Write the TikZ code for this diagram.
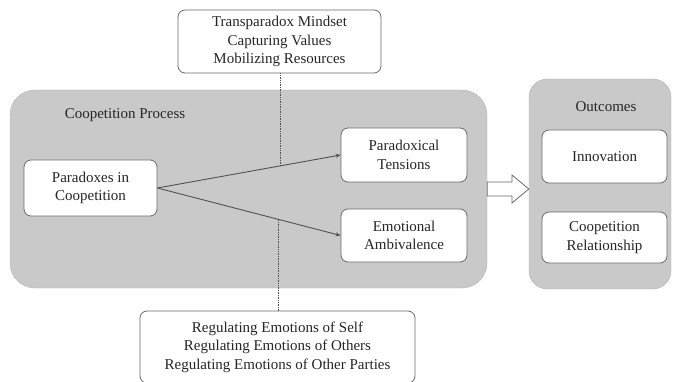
\documentclass[tikz,border=0pt]{standalone}
\usepackage{fontspec}
\setmainfont{Liberation Serif}
\usetikzlibrary{arrows.meta}
\definecolor{panelgray}{HTML}{C9C9C9}
\definecolor{edgegray}{HTML}{6A6A6A}
\definecolor{inkgray}{HTML}{262626}
\begin{document}
\begin{tikzpicture}[x=1pt,y=-1pt,
  every node/.style={font=\fontsize{15}{18.5}\selectfont, text=inkgray},
  panel/.style={fill=panelgray, draw=panelgray!90!black, line width=0.4pt},
  whitebox/.style={draw=edgegray, fill=white, line width=0.8pt, rounded corners=7pt,
    align=center, inner sep=0pt},
  link/.style={draw=inkgray!80, line width=0.9pt, -{Stealth[length=5pt,width=4pt]}},
  guide/.style={draw=inkgray!80, line width=0.7pt, densely dotted}]
\useasboundingbox (0,0) rectangle (674,382);

% shaded panels
\node[panel, rounded corners=25pt, minimum width=477pt, minimum height=198pt] (proc) at (248.5,189) {};
\node[panel, rounded corners=18pt, minimum width=142pt, minimum height=210pt] (outc) at (600,184) {};
\node (proclabel) at (125,115) {Coopetition Process};
\node (outclabel) at (606,107) {Outcomes};

% boxes in the process panel
\node[whitebox, minimum width=133pt, minimum height=56pt] (para) at (90.5,188) {Paradoxes in\\Coopetition};
\node[whitebox, minimum width=126pt, minimum height=54pt] (tens) at (404,155) {Paradoxical\\Tensions};
\node[whitebox, minimum width=126pt, minimum height=53pt] (emo) at (404,235.5) {Emotional\\Ambivalence};

% boxes in the outcomes panel
\node[whitebox, minimum width=125pt, minimum height=53pt] (inno) at (604.5,156.5) {Innovation};
\node[whitebox, minimum width=125pt, minimum height=51pt] (rel) at (604.5,237.5) {Coopetition\\Relationship};

% moderator boxes
\node[whitebox, minimum width=203pt, minimum height=63pt] (top) at (279.5,41.5)
  {Transparadox Mindset\\Capturing Values\\Mobilizing Resources};
\node[whitebox, minimum width=275pt, minimum height=72pt] (bot) at (277.5,347)
  {Regulating Emotions of Self\\Regulating Emotions of Others\\Regulating Emotions of Other Parties};

% paths from the paradoxes
\draw[link] (para.east) -- (tens.west);
\draw[link] (para.east) -- (emo.west);

% moderating links
\coordinate (mtop) at (280,166.4);
\coordinate (mbot) at (278,218.5);
\draw[guide] (top.south -| mtop) -- (mtop);
\draw[guide] (mbot) -- (bot.north -| mbot);

% hollow block arrow from process to outcomes
\draw[draw=edgegray, fill=white, line width=0.8pt, line join=miter]
  (proc.east |- 0,182) -- (512,182) -- (512,175) -- (outc.west |- 0,189)
  -- (512,203) -- (512,196) -- (proc.east |- 0,196) -- cycle;
\end{tikzpicture}
\end{document}
